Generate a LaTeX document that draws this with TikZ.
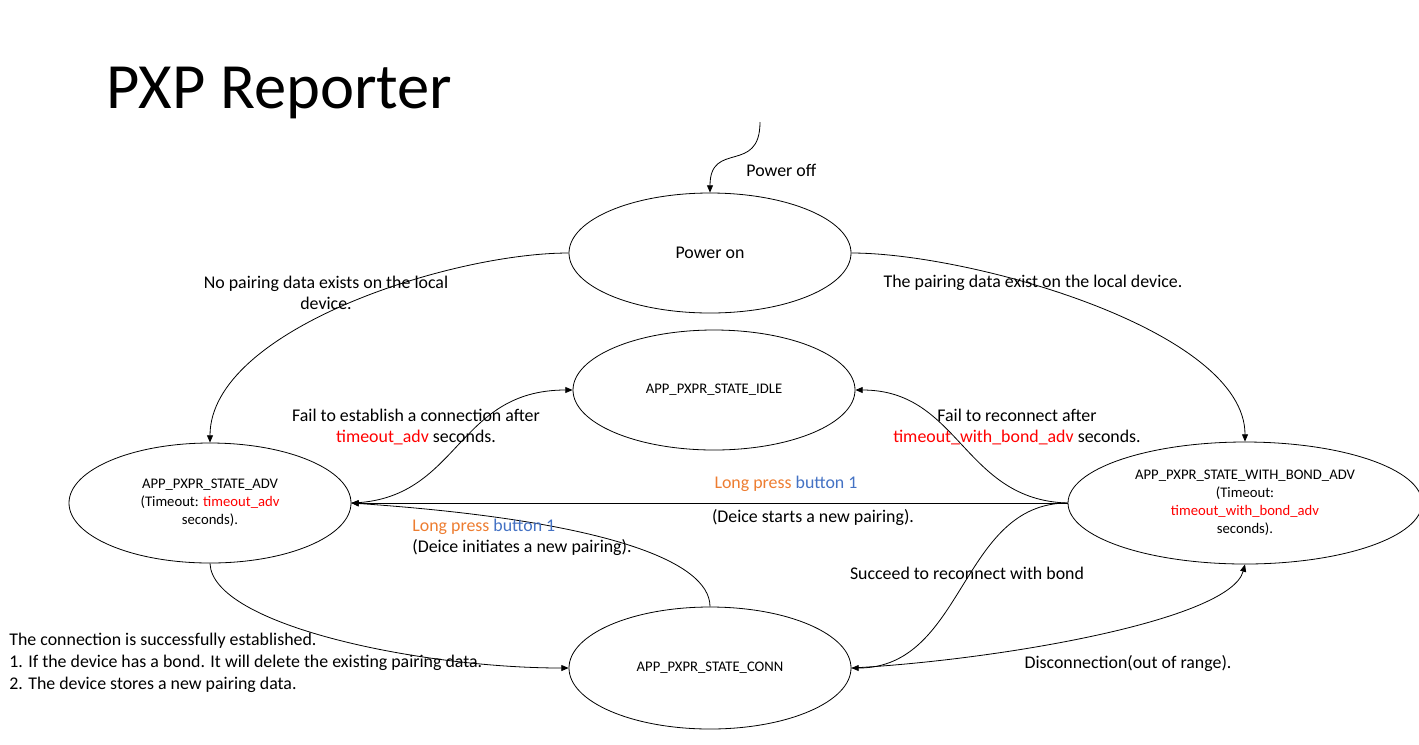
\documentclass[tikz,border=0pt]{standalone}
\usepackage{fontspec}
\setmainfont{Carlito}
\usetikzlibrary{shapes.geometric,arrows.meta}
\definecolor{pxred}{RGB}{255,0,0}
\definecolor{pxorange}{RGB}{237,125,49}
\definecolor{pxblue}{RGB}{68,114,196}
\newcommand{\tmo}[1]{\textcolor{pxred}{#1}}
\newcommand{\lpress}{\textcolor{pxorange}{Long press} \textcolor{pxblue}{button 1}}

\begin{document}
\begin{tikzpicture}[x=0.75pt,y=-0.75pt,line width=0.6pt,
  >={Triangle[length=5.5pt,width=4.5pt]},
  state/.style={draw,ellipse,inner sep=0pt,align=center,minimum width=211.5pt,minimum height=90pt,font=\fontsize{11}{13.5}\selectfont},
  lbl/.style={inner sep=0pt,align=center,font=\fontsize{13.4}{15.9}\selectfont}]
\useasboundingbox (0,0) rectangle (1419,744);

% title
\node[anchor=base west,inner sep=0pt,font=\fontsize{48.4}{50}\selectfont] (title) at (106,108) {PXP Reporter};

% states
\node[state,font=\fontsize{13.4}{15}\selectfont] (pwron) at (710,253) {Power on};
\node[state] (idle) at (714,390) {APP\_PXPR\_STATE\_IDLE};
\node[state] (adv) at (210,503) {APP\_PXPR\_STATE\_ADV\\(Timeout: \tmo{timeout\_adv}\\seconds).};
\node[state,minimum width=265.5pt,minimum height=91.5pt] (wbadv) at (1245,503) {APP\_PXPR\_STATE\_WITH\_BOND\_ADV\\(Timeout:\\\tmo{timeout\_with\_bond\_adv}\\seconds).};
\node[state,minimum height=91.5pt] (conn) at (710,668) {APP\_PXPR\_STATE\_CONN};

% transitions
\coordinate (offstart) at (760,122);
\draw[->] (offstart) .. controls (760,175) and (710,140) .. (pwron.north);
\draw[->] (pwron.west) .. controls (450,253) and (210,330) .. (adv.north);
\draw[->] (pwron.east) .. controls (970,253) and (1245,330) .. (wbadv.north);
\draw[->] (adv.east) .. controls (460,500) and (455,390) .. (idle.west);
\draw[->] (wbadv.west) .. controls (963,500) and (960,390) .. (idle.east);
\draw[->] (wbadv.west) -- (adv.east);
\draw[->] (conn.north) .. controls (710,560) and (600,520) .. (adv.east);
\draw[->] (adv.south) .. controls (212,625) and (420,668) .. (conn.west);
\draw[->] (wbadv.west) .. controls (960,503) and (965,668) .. (conn.east);
\draw[->] (conn.east) .. controls (1000,660) and (1230,620) .. (wbadv.south);

% labels
\node[lbl,anchor=west] (offlbl) at (746,170) {Power off};
\node[lbl] (nopair) at (326,293) {No pairing data exists on the local\\device.};
\node[lbl] (pair) at (1033,283) {The pairing data exist on the local device.};
\node[lbl] (failadv) at (416,427) {Fail to establish a connection after\\\tmo{timeout\_adv} seconds.};
\node[lbl] (failbond) at (1017,427) {Fail to reconnect after\\\tmo{timeout\_with\_bond\_adv} seconds.};
\node[lbl] (lpstart) at (786,484) {\lpress};
\node[lbl] (newpair) at (813,517) {(Deice starts a new pairing).};
\node[lbl,anchor=west,align=left] (lpinit) at (412,537) {\lpress\\(Deice initiates a new pairing).};
\node[lbl,anchor=west,align=left,font=\fontsize{13.4}{16.5}\selectfont] (connok) at (9,663) {The connection is successfully established.\\1. If the device has a bond. It will delete the existing pairing data.\\2. The device stores a new pairing data.};
\node[lbl] (reconn) at (967,573) {Succeed to reconnect with bond};
\node[lbl] (disc) at (1128,663) {Disconnection(out of range).};
\end{tikzpicture}
\end{document}
